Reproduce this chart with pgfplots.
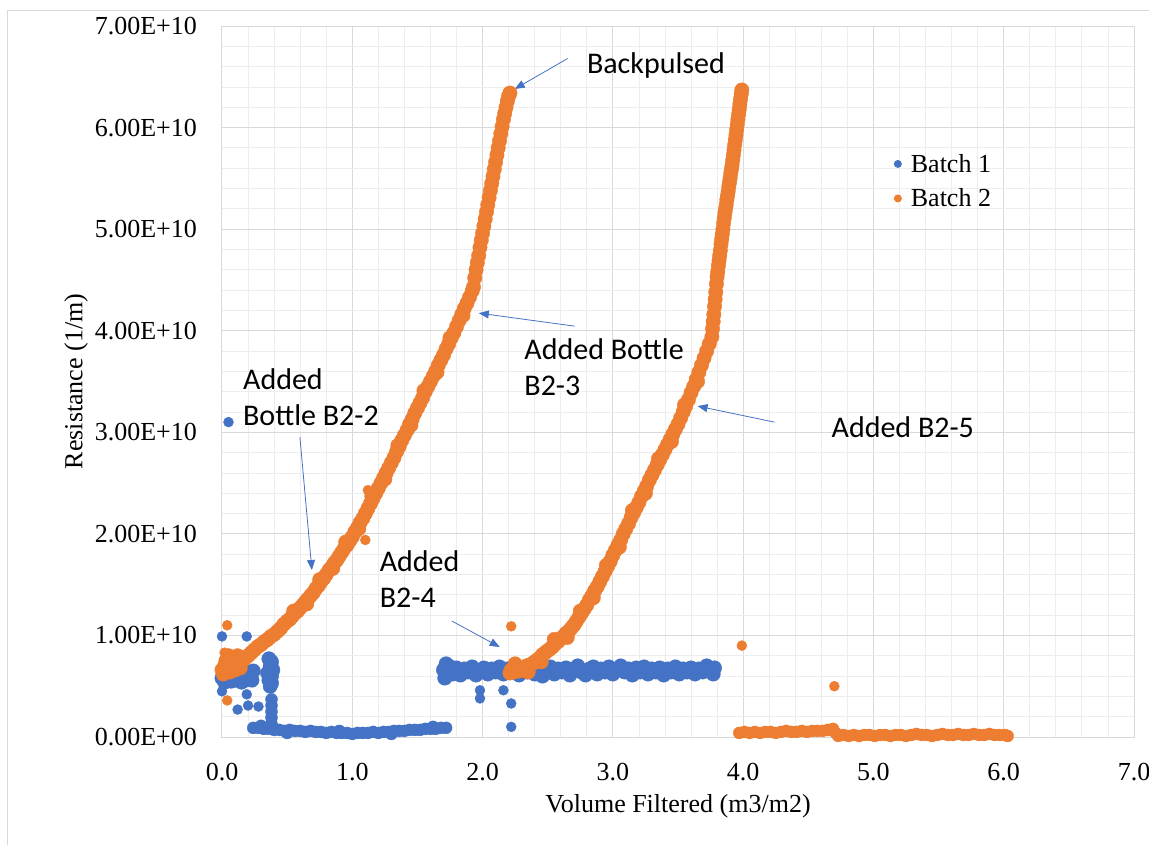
\documentclass[border=0pt]{standalone}
\usepackage{pgfplots}
\pgfplotsset{compat=1.18}
\usepackage{fontspec}
\setmainfont{Liberation Serif}
\newfontfamily\calibri{Carlito}
\usetikzlibrary{arrows.meta}
\definecolor{b1}{HTML}{4472C4}
\definecolor{b2}{HTML}{ED7D31}
\definecolor{majg}{HTML}{D9D9D9}
\definecolor{ming}{HTML}{EDEDED}
\newcommand{\tfont}{\fontsize{26}{31}\selectfont}
\newcommand{\afont}{\calibri\fontsize{30}{36}\selectfont}
\begin{document}
\begin{tikzpicture}
\path[use as bounding box] (0pt,0pt) rectangle (1149pt,844pt);
\draw[majg, line width=1pt] (7pt,-10pt) -- (7pt,833pt) -- (1170pt,833pt);
\begin{axis}[
  at={(222pt,107pt)}, anchor=south west,
  scale only axis, width=912pt, height=711pt,
  xmin=0, xmax=7, ymin=0, ymax=7,
  clip=false,
  xtick={0,1,2,3,4,5,6,7},
  xticklabels={0.0,1.0,2.0,3.0,4.0,5.0,6.0,7.0},
  ytick={0,1,2,3,4,5,6,7},
  yticklabels={0.00E+00,1.00E+10,2.00E+10,3.00E+10,4.00E+10,5.00E+10,6.00E+10,7.00E+10},
  minor x tick num=4, minor y tick num=4,
  grid=both,
  major grid style={majg, line width=1pt},
  minor grid style={ming, line width=0.8pt},
  major tick length=0pt, minor tick length=0pt,
  axis line style={majg, line width=1pt},
  tick label style={font=\tfont, text=black},
  x tick label style={inner sep=0pt, yshift=-26pt},
  y tick label style={inner sep=0pt, xshift=-25pt},
  xlabel={Volume Filtered (m3/m2)},
  ylabel={Resistance (1/m)},
  label style={font=\tfont},
  xlabel style={at={(axis description cs:0.5,-0.097)}, anchor=center},
  ylabel style={at={(axis description cs:-0.160,0.5)}, anchor=center},
  legend style={at={(axis cs:5.117,5.76)}, anchor=north west, draw=none, fill=none,
    font=\tfont, row sep=11pt, inner sep=0pt},
  legend cell align=left,
]
% ---------------- Batch 1 ----------------
\addplot[only marks, mark=*, mark size=5pt, color=b1, mark options={draw=b1, fill=b1},
  legend image code/.code={\path[draw=none,fill=none] (0pt,0pt) -- (20pt,0pt); \fill[b1,draw=none] (9pt,0pt) circle (4pt);}]
coordinates {
(0.00,0.99) (0.19,0.99) (0.00,0.45) (0.05,3.10)
(0.12,0.27) (0.19,0.42) (0.20,0.31) (0.28,0.30)
(1.98,0.46) (1.98,0.38) (2.16,0.46) (2.22,0.33) (2.22,0.10)
};
\addlegendentry{Batch 1}
\addplot[only marks, mark=*, mark size=7.2pt, color=b1, mark options={draw=b1, fill=b1}, forget plot]
coordinates {
(0.00,0.58) (0.01,0.66) (0.02,0.54) (0.03,0.62) (0.05,0.57) (0.06,0.66) (0.07,0.55) (0.09,0.61)
(0.10,0.56) (0.11,0.64) (0.13,0.57) (0.14,0.62) (0.15,0.54) (0.17,0.60) (0.18,0.56) (0.19,0.64)
(0.21,0.58) (0.22,0.63) (0.23,0.56) (0.24,0.65)
(0.36,0.77) (0.38,0.74) (0.37,0.70) (0.39,0.66) (0.35,0.63) (0.38,0.60) (0.36,0.56) (0.38,0.53)
(0.37,0.50)
(1.70,0.66) (1.71,0.58) (1.72,0.61) (1.72,0.72) (1.74,0.70) (1.77,0.62) (1.80,0.68) (1.83,0.61)
(1.86,0.67) (1.89,0.64) (1.92,0.69) (1.95,0.61) (1.98,0.65) (2.01,0.68) (2.04,0.62) (2.07,0.67)
(2.10,0.64) (2.13,0.69) (2.16,0.62) (2.19,0.67) (2.22,0.64) (2.25,0.68) (2.28,0.61) (2.31,0.67)
(2.34,0.64) (2.37,0.69) (2.40,0.62) (2.43,0.67) (2.46,0.60) (2.49,0.65) (2.52,0.69) (2.55,0.62)
(2.58,0.67) (2.61,0.64) (2.64,0.68) (2.67,0.61) (2.70,0.67) (2.73,0.70) (2.76,0.64) (2.79,0.61)
(2.82,0.67) (2.85,0.69) (2.88,0.62) (2.91,0.67) (2.94,0.64) (2.97,0.69) (3.00,0.62) (3.03,0.67)
(3.06,0.70) (3.09,0.64) (3.12,0.67) (3.15,0.61) (3.18,0.68) (3.21,0.64) (3.24,0.69) (3.27,0.62)
(3.30,0.67) (3.33,0.64) (3.36,0.68) (3.39,0.61) (3.42,0.67) (3.45,0.64) (3.48,0.69) (3.51,0.62)
(3.54,0.67) (3.57,0.64) (3.60,0.68) (3.63,0.62) (3.66,0.67) (3.69,0.64) (3.72,0.70) (3.75,0.65)
(3.77,0.62) (3.78,0.68)
};
\addplot[only marks, mark=*, mark size=6pt, color=b1, mark options={draw=b1, fill=b1}, forget plot]
coordinates {
(0.38,0.37) (0.38,0.31) (0.38,0.25) (0.38,0.19) (0.38,0.13)
(0.24,0.09) (0.28,0.09) (0.30,0.11) (0.32,0.08) (0.36,0.08) (0.40,0.07) (0.44,0.07) (0.48,0.06)
(0.50,0.04) (0.52,0.07) (0.56,0.06) (0.60,0.06) (0.64,0.05) (0.68,0.06) (0.72,0.05) (0.76,0.05)
(0.80,0.04) (0.84,0.05) (0.88,0.04) (0.90,0.06) (0.92,0.04) (0.96,0.04) (1.00,0.03) (1.04,0.04)
(1.08,0.04) (1.12,0.04) (1.16,0.05) (1.20,0.04) (1.24,0.05) (1.28,0.05) (1.30,0.03) (1.32,0.06)
(1.36,0.06) (1.40,0.06) (1.44,0.07) (1.48,0.07) (1.52,0.07) (1.56,0.08) (1.60,0.08) (1.62,0.10)
(1.64,0.08) (1.68,0.09) (1.72,0.09)
};
% ---------------- Batch 2 ----------------
\addplot[only marks, mark=*, mark size=5pt, color=b2, mark options={draw=b2, fill=b2},
  legend image code/.code={\path[draw=none,fill=none] (0pt,0pt) -- (20pt,0pt); \fill[b2,draw=none] (9pt,0pt) circle (4pt);}]
coordinates {
(0.04,1.10) (0.04,0.36) (0.02,0.83) (1.12,2.43) (1.10,1.94) (2.22,1.09) (3.99,0.90) (4.70,0.50)
};
\addlegendentry{Batch 2}
\addplot[only marks, mark=*, mark size=7.2pt, color=b2, mark options={draw=b2, fill=b2}, forget plot]
coordinates {
(0.01,0.62) (0.02,0.70) (0.03,0.75) (0.05,0.80) (0.06,0.64) (0.08,0.78) (0.10,0.66) (0.12,0.80) (0.14,0.68)
(0.000,0.66) (0.025,0.68) (0.050,0.69) (0.075,0.70) (0.100,0.71) (0.125,0.73) (0.150,0.75) (0.175,0.77)
(0.200,0.80) (0.225,0.83) (0.250,0.86) (0.275,0.89) (0.300,0.91) (0.325,0.94) (0.350,0.96) (0.375,0.99)
(0.400,1.01) (0.425,1.04) (0.450,1.07) (0.475,1.11) (0.500,1.14)
(0.52,1.16) (0.54,1.19) (0.56,1.22) (0.58,1.24) (0.60,1.27) (0.62,1.30) (0.64,1.33) (0.66,1.36)
(0.68,1.39) (0.70,1.42) (0.72,1.46) (0.74,1.49) (0.76,1.53) (0.78,1.56) (0.80,1.60) (0.82,1.64)
(0.84,1.67) (0.86,1.71) (0.88,1.74) (0.90,1.78) (0.92,1.82) (0.94,1.86) (0.96,1.89) (0.98,1.93)
(1.00,1.97) (1.02,2.02) (1.04,2.06) (1.06,2.11) (1.08,2.15) (1.10,2.20) (1.12,2.25) (1.14,2.30)
(1.16,2.35) (1.18,2.40) (1.20,2.45) (1.22,2.50) (1.24,2.55) (1.26,2.60) (1.28,2.65) (1.30,2.70)
(1.32,2.75) (1.34,2.81) (1.36,2.86) (1.38,2.92) (1.40,2.97) (1.42,3.02) (1.44,3.08) (1.46,3.13)
(1.48,3.19) (1.50,3.24) (1.52,3.29) (1.54,3.34) (1.56,3.40) (1.58,3.45) (1.60,3.50) (1.62,3.55)
(1.64,3.60) (1.66,3.66) (1.68,3.71) (1.70,3.76) (1.72,3.82) (1.74,3.87) (1.76,3.93) (1.78,3.98)
(1.80,4.04) (1.82,4.10) (1.84,4.16) (1.86,4.22) (1.88,4.27) (1.90,4.33) (1.92,4.39) (1.93,4.43)
(0.55,1.24) (0.65,1.31) (0.75,1.55) (0.85,1.66) (0.95,1.92) (1.05,2.05) (1.15,2.37) (1.25,2.54)
(1.35,2.87) (1.45,3.07) (1.55,3.41) (1.65,3.59) (1.75,3.93) (1.85,4.15)
(1.94,4.52) (1.95,4.60) (1.96,4.67) (1.97,4.74) (1.98,4.82) (1.99,4.89) (2.00,4.96) (2.01,5.03)
(2.02,5.10) (2.03,5.17) (2.04,5.24) (2.05,5.31) (2.06,5.38) (2.07,5.45) (2.08,5.52) (2.09,5.59)
(2.10,5.66) (2.11,5.73) (2.12,5.80) (2.13,5.87) (2.14,5.94) (2.15,6.01) (2.16,6.08) (2.17,6.14)
(2.18,6.20) (2.19,6.26) (2.20,6.31) (2.21,6.34)
(2.21,0.63) (2.22,0.66) (2.24,0.64) (2.26,0.67) (2.28,0.65) (2.30,0.68) (2.32,0.69) (2.34,0.70)
(2.36,0.71) (2.38,0.72) (2.40,0.74) (2.42,0.76) (2.44,0.78) (2.46,0.81) (2.48,0.83) (2.50,0.85)
(2.52,0.87) (2.54,0.89) (2.56,0.92) (2.58,0.94) (2.60,0.97) (2.62,0.99) (2.64,1.02) (2.66,1.04)
(2.68,1.07) (2.70,1.10) (2.72,1.14) (2.74,1.18) (2.76,1.22) (2.78,1.26) (2.80,1.30) (2.82,1.35)
(2.84,1.39) (2.86,1.44) (2.88,1.48) (2.90,1.53) (2.92,1.58) (2.94,1.63) (2.96,1.68) (2.98,1.73)
(3.00,1.79) (3.02,1.84) (3.04,1.89) (3.06,1.94) (3.08,2.00) (3.10,2.05) (3.12,2.10) (3.14,2.16)
(3.16,2.21) (3.18,2.26) (3.20,2.31) (3.22,2.37) (3.24,2.42) (3.26,2.47) (3.28,2.53) (3.30,2.58)
(3.32,2.63) (3.34,2.68) (3.36,2.73) (3.38,2.78) (3.40,2.83) (3.42,2.88) (3.44,2.93) (3.46,2.98)
(3.48,3.03) (3.50,3.08) (3.52,3.14) (3.54,3.20) (3.56,3.26) (3.58,3.32) (3.60,3.39) (3.62,3.45)
(3.64,3.52) (3.66,3.59) (3.68,3.66) (3.70,3.73) (3.72,3.80) (3.74,3.87) (3.76,3.94)
(2.25,0.72) (2.35,0.64) (2.45,0.74) (2.55,0.96) (2.65,0.98) (2.75,1.24) (2.85,1.37) (2.95,1.69)
(3.05,1.87) (3.15,2.23) (3.25,2.40) (3.35,2.74) (3.45,2.91) (3.55,3.27) (3.65,3.50)
(3.765,4.02) (3.770,4.09) (3.775,4.16) (3.780,4.24) (3.785,4.31) (3.790,4.38) (3.795,4.46) (3.800,4.53)
(3.805,4.58) (3.810,4.64) (3.815,4.69) (3.820,4.74) (3.825,4.79) (3.830,4.85) (3.835,4.90) (3.840,4.95)
(3.845,5.00) (3.850,5.06) (3.855,5.11) (3.860,5.16) (3.865,5.20) (3.870,5.24) (3.875,5.29) (3.880,5.33)
(3.885,5.37) (3.890,5.42) (3.895,5.46) (3.900,5.50) (3.905,5.55) (3.910,5.59) (3.915,5.63) (3.920,5.68)
(3.925,5.73) (3.930,5.78) (3.935,5.83) (3.940,5.88) (3.945,5.93) (3.950,5.98) (3.955,6.03) (3.960,6.08)
(3.965,6.13) (3.970,6.18) (3.975,6.23) (3.980,6.28) (3.985,6.33) (3.990,6.37)
};
\addplot[only marks, mark=*, mark size=6pt, color=b2, mark options={draw=b2, fill=b2}, forget plot]
coordinates {
(3.97,0.04) (4.01,0.05) (4.05,0.04) (4.09,0.05) (4.13,0.04) (4.17,0.05) (4.21,0.05) (4.25,0.04)
(4.29,0.05) (4.33,0.06) (4.37,0.05) (4.41,0.05) (4.45,0.06) (4.49,0.05) (4.53,0.06) (4.57,0.06)
(4.61,0.06) (4.65,0.07) (4.69,0.08) (4.71,0.04) (4.73,0.01) (4.77,0.02) (4.81,0.01) (4.85,0.02)
(4.89,0.01) (4.93,0.02) (4.97,0.02) (5.01,0.01) (5.05,0.02) (5.09,0.02) (5.13,0.01) (5.17,0.02)
(5.21,0.02) (5.25,0.01) (5.29,0.02) (5.33,0.03) (5.37,0.02) (5.41,0.02) (5.45,0.01) (5.49,0.02)
(5.53,0.03) (5.57,0.02) (5.61,0.02) (5.65,0.03) (5.69,0.02) (5.73,0.02) (5.77,0.03) (5.81,0.02)
(5.85,0.02) (5.89,0.03) (5.93,0.02) (5.97,0.02) (6.01,0.02) (6.03,0.01)
};
% annotations
\node[font=\afont, anchor=west, inner sep=0pt] at (axis cs:2.80,6.61) {Backpulsed};
\draw[b1, line width=0.8pt, -{Triangle[length=10pt,width=8pt]}] (axis cs:2.653,6.68) -- (axis cs:2.247,6.38);
\node[font=\afont, anchor=west, align=left, inner sep=0pt] at (axis cs:2.32,3.64) {Added Bottle\\B2-3};
\draw[b1, line width=0.8pt, -{Triangle[length=10pt,width=8pt]}] (axis cs:2.707,4.045) -- (axis cs:1.971,4.173);
\node[font=\afont, anchor=west, inner sep=0pt] at (axis cs:4.678,3.05) {Added B2-5};
\draw[b1, line width=0.8pt, -{Triangle[length=10pt,width=8pt]}] (axis cs:4.24,3.10) -- (axis cs:3.65,3.258);
\node[font=\afont, anchor=west, align=left, inner sep=0pt] at (axis cs:0.161,3.346) {Added\\Bottle B2-2};
\draw[b1, line width=0.8pt, -{Triangle[length=10pt,width=8pt]}] (axis cs:0.598,2.953) -- (axis cs:0.69,1.644);
\node[font=\afont, anchor=west, align=left, inner sep=0pt] at (axis cs:1.21,1.555) {Added\\B2-4};
\draw[b1, line width=0.8pt, -{Triangle[length=10pt,width=8pt]}] (axis cs:1.764,1.142) -- (axis cs:2.132,0.886);
\end{axis}
\end{tikzpicture}
\end{document}
